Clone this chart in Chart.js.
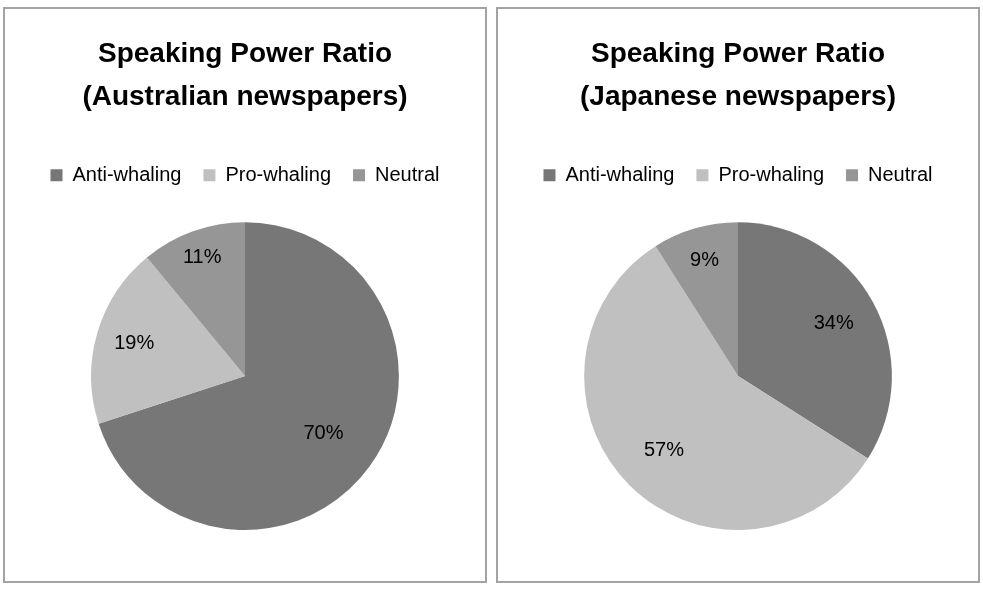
<!DOCTYPE html>
<html>
<head>
<meta charset="utf-8">
<script src="https://cdn.jsdelivr.net/npm/chart.js@4"></script>
<style>
  html, body { margin: 0; padding: 0; background: #ffffff; }
  body { width: 983px; height: 592px; position: relative; overflow: hidden; }
  .panel { position: absolute; top: 7px; width: 480px; height: 572px; border: 2px solid #a3a3a3; background: #fff; }
  .panel canvas { position: absolute; left: 0; top: 0; }
  #p1 { left: 3px; }
  #p2 { left: 496px; }
</style>
</head>
<body>
<div class="panel" id="p1"><canvas id="c1" width="480" height="572"></canvas></div>
<div class="panel" id="p2"><canvas id="c2" width="480" height="572"></canvas></div>
<script>
const categories = ["Anti-whaling", "Pro-whaling", "Neutral"];
const australianValues = [70, 19, 11];
const japaneseValues = [34, 57, 9];
const titleAustralian = ["Speaking Power Ratio", "(Australian newspapers)"];
const titleJapanese = ["Speaking Power Ratio", "(Japanese newspapers)"];
const sliceColors = ["#777777", "#c0c0c0", "#969696"];

const legendGap = {
  id: 'legendGap',
  afterInit(chart, args, opts) {
    const legend = chart.legend;
    if (!legend) return;
    const origFit = legend.fit;
    legend.fit = function () {
      origFit.call(this);
      this.height += opts.extra;
    };
  }
};

const pctLabels = {
  id: 'pctLabels',
  afterDatasetsDraw(chart, args, opts) {
    const ctx = chart.ctx;
    const meta = chart.getDatasetMeta(0);
    const data = chart.data.datasets[0].data;
    const total = data.reduce((a, b) => a + b, 0);
    ctx.save();
    ctx.font = '20px "Liberation Sans", Arial, sans-serif';
    ctx.fillStyle = '#000';
    ctx.textAlign = 'center';
    ctx.textBaseline = 'middle';
    meta.data.forEach((arc, i) => {
      const p = arc.getProps(['x', 'y', 'startAngle', 'endAngle', 'outerRadius'], true);
      const mid = (p.startAngle + p.endAngle) / 2;
      const f = opts.radii[i];
      const x = p.x + Math.cos(mid) * p.outerRadius * f;
      const y = p.y + Math.sin(mid) * p.outerRadius * f;
      ctx.fillText(Math.round(data[i] / total * 100) + '%', x, y);
    });
    ctx.restore();
  }
};

function makeChart(id, values, title, radii) {
  return new Chart(document.getElementById(id), {
    type: 'pie',
    data: {
      labels: categories,
      datasets: [{ data: values, backgroundColor: sliceColors, borderWidth: 0 }]
    },
    plugins: [legendGap, pctLabels],
    options: {
      responsive: false,
      animation: false,
      layout: { padding: { left: 0, right: 0, top: 0, bottom: 51 } },
      plugins: {
        tooltip: { enabled: false },
        title: {
          display: true,
          text: title,
          color: '#000',
          font: { family: '"Liberation Sans", Arial, sans-serif', size: 28, weight: 'bold', lineHeight: 1.54 },
          padding: { top: 24, bottom: 24 }
        },
        legend: {
          display: true,
          position: 'top',
          labels: {
            color: '#000',
            boxWidth: 12,
            boxHeight: 12,
            padding: 22,
            font: { family: '"Liberation Sans", Arial, sans-serif', size: 20 }
          }
        },
        legendGap: { extra: 27 },
        pctLabels: { radii: radii }
      }
    }
  });
}

makeChart('c1', australianValues, titleAustralian, [0.63, 0.75, 0.82]);
makeChart('c2', japaneseValues, titleJapanese, [0.71, 0.68, 0.78]);
</script>
</body>
</html>
